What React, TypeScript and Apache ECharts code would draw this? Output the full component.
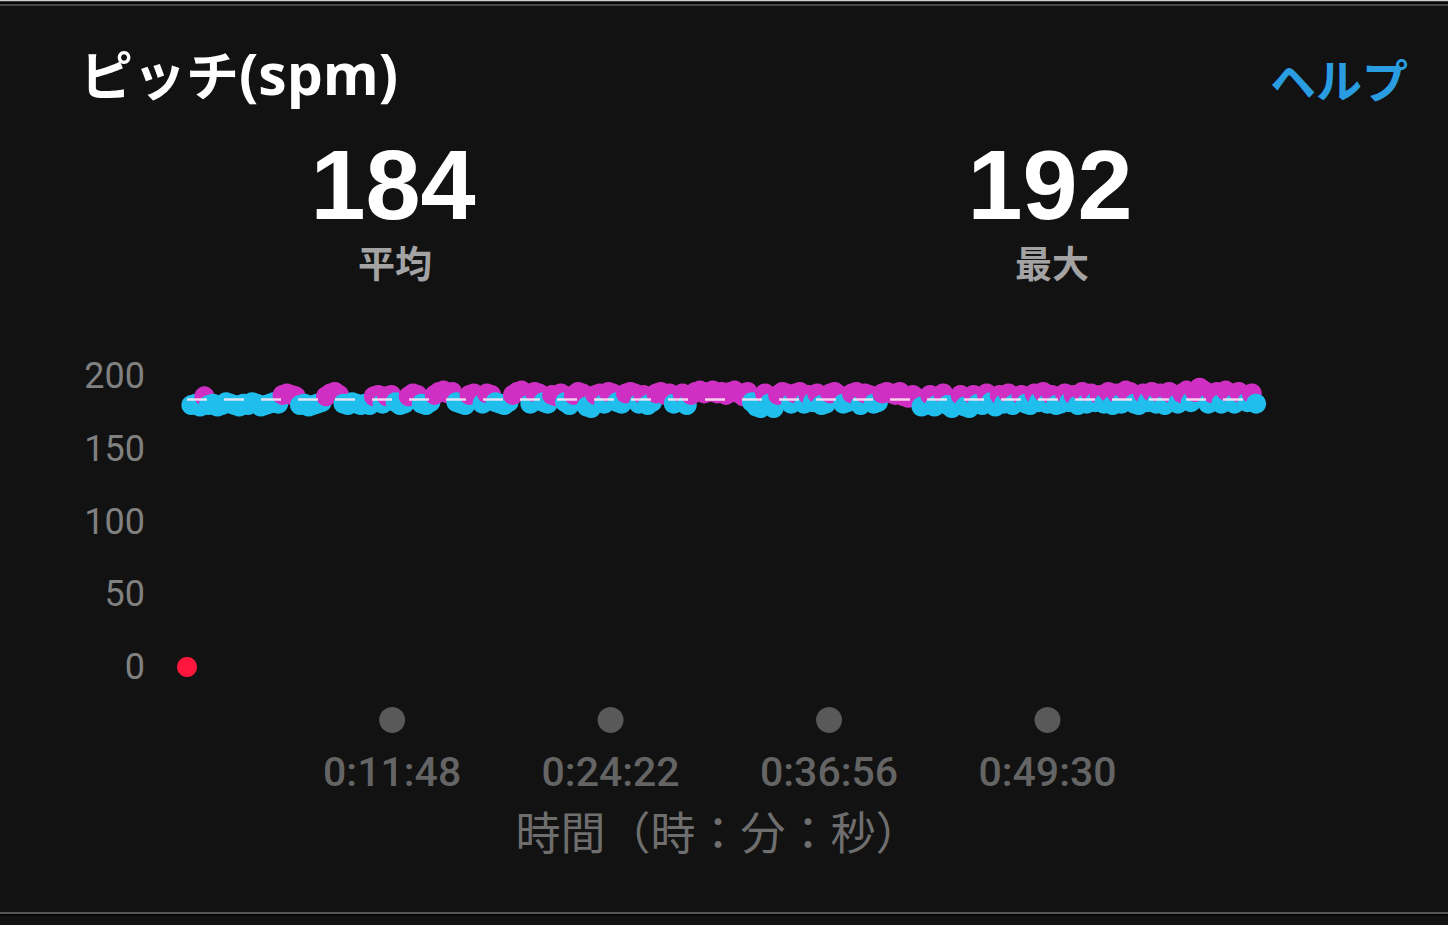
import React, { useEffect, useRef } from "react";
import * as echarts from "echarts";

const SAMPLE_SEC = 15;
const PITCH = [
  0,
  180, 181, 179, 186, 180, 181, 179, 180, 182, 181, 180, 179, 181, 180, 182, 181, 179, 180, 181, 182,
  181, 187, 188, 187, 186, 180, 181, 179, 180, 181, 182, 186, 188, 189, 187, 181, 180, 182, 181, 180,
  181, 180, 186, 187, 181, 186, 187, 182, 180, 181, 186, 188, 187, 181, 180, 182, 187, 189, 190, 188,
  189, 182, 181, 180, 187, 188, 186, 181, 188, 187, 182, 181, 180, 182, 187, 189, 190, 188, 181, 189,
  188, 182, 181, 187, 186, 188, 182, 180, 187, 189, 188, 179, 178, 187, 188, 181, 189, 188, 182, 181,
  188, 189, 188, 181, 187, 180, 182, 188, 189, 187, 188, 181, 182, 188, 180, 187, 189, 190, 188, 189,
  190, 188, 189, 187, 189, 190, 188, 186, 189, 182, 179, 178, 188, 181, 178, 187, 189, 188, 181, 188,
  189, 181, 187, 182, 188, 180, 181, 188, 189, 187, 181, 182, 188, 189, 180, 188, 187, 181, 182, 188,
  189, 188, 187, 189, 186, 185, 187, 185, 179, 180, 187, 179, 181, 188, 180, 178, 181, 187, 179, 178,
  187, 181, 180, 188, 182, 179, 187, 181, 188, 180, 182, 187, 181, 180, 188, 182, 189, 181, 187, 180,
  181, 188, 182, 187, 180, 189, 181, 188, 182, 187, 181, 189, 180, 188, 181, 190, 189, 181, 180, 188,
  182, 189, 181, 188, 180, 189, 187, 181, 188, 190, 182, 189, 192, 190, 181, 188, 189, 181, 190, 188,
  181, 189, 187, 182, 188, 181,
];
const AVG = 184;
const MAX = 192;
const Y_TICKS = [0, 50, 100, 150, 200];
const TICK_SECONDS = [708, 1462, 2216, 2970];
const TICK_LABELS = ["0:11:48", "0:24:22", "0:36:56", "0:49:30"];
const X_MAX = 3700;

export default function App() {
  const ref = useRef<HTMLDivElement>(null);
  useEffect(() => {
    if (!ref.current) return;
    const chart = echarts.init(ref.current, null, { renderer: "svg" });
    const data = PITCH.map((v, i) => [i * SAMPLE_SEC, v]);
    const tickData = TICK_SECONDS.map((t, i) => ({ value: [t, 0], name: TICK_LABELS[i] }));
    chart.setOption({
      animation: false,
      backgroundColor: "#121212",
      grid: [
        { left: 187, top: 376, width: 1072, height: 291 },
        { left: 187, top: 700, width: 1072, height: 40 },
      ],
      xAxis: [
        { type: "value", gridIndex: 0, min: 0, max: X_MAX, show: false },
        { type: "value", gridIndex: 1, min: 0, max: X_MAX, show: false },
      ],
      yAxis: [
        {
          type: "value",
          gridIndex: 0,
          min: Y_TICKS[0],
          max: Y_TICKS[Y_TICKS.length - 1],
          interval: 50,
          axisLine: { show: false },
          axisTick: { show: false },
          splitLine: { show: false },
          axisLabel: {
            margin: 42,
            fontSize: 36,
            color: "#808080",
            fontFamily: "Roboto",
          },
        },
        { type: "value", gridIndex: 1, min: -1, max: 1, show: false },
      ],
      visualMap: {
        type: "piecewise",
        show: false,
        seriesIndex: 0,
        dimension: 1,
        pieces: [
          { lt: 153, color: "#ff163c" },
          { gte: 153, lt: 164, color: "#ff8c1a" },
          { gte: 164, lt: 174, color: "#3ec63e" },
          { gte: 174, lt: 184, color: "#1fbeec" },
          { gte: 184, color: "#cf30c3" },
        ],
      },
      series: [
        {
          type: "scatter",
          xAxisIndex: 0,
          yAxisIndex: 0,
          data,
          symbolSize: 20,
          itemStyle: { opacity: 1 },
          markLine: {
            silent: true,
            symbol: "none",
            label: { show: false },
            lineStyle: { color: "rgba(255,235,245,0.85)", width: 2.5, type: [20, 17] },
            data: [{ yAxis: AVG }],
          },
        },
        {
          type: "scatter",
          xAxisIndex: 1,
          yAxisIndex: 1,
          data: tickData,
          symbolSize: 26,
          itemStyle: { color: "#6b6b6b" },
          label: {
            show: true,
            position: "bottom",
            distance: 18,
            formatter: (p: any) => p.name,
            fontSize: 41,
            color: "#7c7c7c",
            fontFamily: "Roboto",
            fontWeight: 500,
          },
        },
      ],
      graphic: [
        { type: "rect", left: 0, top: 0, shape: { width: 1448, height: 1.5 }, style: { fill: "#cfcfcf" }, z: 100 },
        { type: "rect", left: 0, top: 1.5, shape: { width: 1448, height: 2.5 }, style: { fill: "#070707" }, z: 100 },
        { type: "rect", left: 0, top: 4, shape: { width: 1448, height: 2 }, style: { fill: "#4a4a4a" }, z: 100 },
        { type: "rect", left: 0, top: 912, shape: { width: 1448, height: 2 }, style: { fill: "#555555" }, z: 100 },
        { type: "rect", left: 0, top: 914, shape: { width: 1448, height: 2 }, style: { fill: "#050505" }, z: 100 },
        {
          type: "text",
          x: 80,
          y: 73,
          style: {
            text: "{a|ピッチ}{b|(spm)}",
            verticalAlign: "middle",
            rich: {
              a: { fontSize: 53, fontWeight: "bold", fill: "#ffffff", fontFamily: "Noto Sans CJK JP" },
              b: { fontSize: 57, fontWeight: "bold", fill: "#ffffff", fontFamily: "Open Sans" },
            },
          },
        },
        {
          type: "text",
          x: 1408,
          y: 78,
          style: {
            text: "ヘルプ",
            align: "right",
            verticalAlign: "middle",
            fontSize: 46,
            fontWeight: "bold",
            fill: "#2a9de2",
            fontFamily: "Noto Sans CJK JP",
          },
        },
        {
          type: "text",
          x: 393,
          y: 184,
          style: {
            text: String(AVG),
            align: "center",
            verticalAlign: "middle",
            fontSize: 99,
            fontWeight: "bold",
            fill: "#ffffff",
            fontFamily: "Liberation Sans",
          },
        },
        {
          type: "text",
          x: 395,
          y: 262,
          style: {
            text: "平均",
            align: "center",
            verticalAlign: "middle",
            fontSize: 37,
            fontWeight: "bold",
            fill: "#a3a3a3",
            fontFamily: "Noto Sans CJK JP",
          },
        },
        {
          type: "text",
          x: 1050,
          y: 184,
          style: {
            text: String(MAX),
            align: "center",
            verticalAlign: "middle",
            fontSize: 99,
            fontWeight: "bold",
            fill: "#ffffff",
            fontFamily: "Liberation Sans",
          },
        },
        {
          type: "text",
          x: 1052,
          y: 262,
          style: {
            text: "最大",
            align: "center",
            verticalAlign: "middle",
            fontSize: 37,
            fontWeight: "bold",
            fill: "#a3a3a3",
            fontFamily: "Noto Sans CJK JP",
          },
        },
        {
          type: "text",
          x: 718,
          y: 830,
          style: {
            text: "時間（時：分：秒）",
            align: "center",
            verticalAlign: "middle",
            fontSize: 45,
            fill: "#6e6e6e",
            fontFamily: "Noto Sans CJK JP",
          },
        },
      ],
    });
    return () => chart.dispose();
  }, []);
  return (
    <div
      ref={ref}
      style={{ position: "fixed", left: 0, top: 0, width: 1448, height: 925 }}
    />
  );
}
